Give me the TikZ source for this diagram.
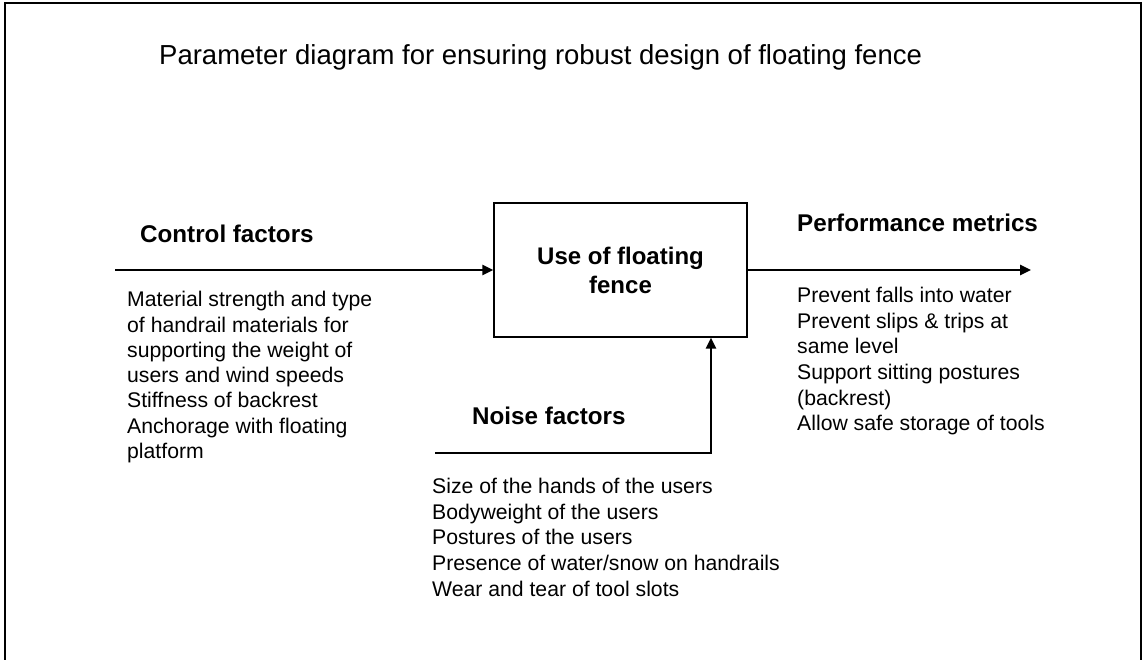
\documentclass[tikz,border=0pt]{standalone}
\usepackage{fontspec}
\setmainfont{Liberation Sans}
\usetikzlibrary{arrows.meta}
\tikzset{
  frameline/.style={line width=1.6pt, black},
  boxstyle/.style={draw, line width=1.2pt, minimum width=253pt, minimum height=134pt, inner sep=0pt, align=center, font=\bfseries\fontsize{24}{29}\selectfont},
  arr/.style={line width=2.4pt, -{Triangle[length=11pt,width=10pt]}},
  titletext/.style={anchor=base west, inner sep=0pt, font=\fontsize{27.5}{33}\selectfont},
  headtext/.style={anchor=base west, inner sep=0pt, font=\bfseries\fontsize{24.2}{29}\selectfont},
  listtext/.style={anchor=base west, inner sep=0pt, font=\fontsize{21.2}{25}\selectfont},
}
\begin{document}
\begin{tikzpicture}[x=1pt, y=-1pt]
\useasboundingbox (0,0) rectangle (1145,660);
\draw[frameline] (5,662) -- (5,3) -- (1141,3) -- (1141,662);

\node[titletext] (title) at (159,65) {Parameter diagram for ensuring robust design of floating fence};

\node[boxstyle] (box) at (620.5,270) {Use of floating\\fence};

\node[headtext] (ctrl) at (140,243) {Control factors};
\node[headtext] (perf) at (797,232) {Performance metrics};
\node[headtext] (noise) at (472,424) {Noise factors};

\coordinate (cstart) at (115,270);
\coordinate (pend) at (1031,270);
\coordinate (nstart) at (435,453);
\coordinate (ncorner) at (711,453);

\draw[arr] (cstart) -- (box.west);
\draw[arr] (box.east) -- (pend);
\draw[arr] (nstart) -- (ncorner) -- (ncorner |- box.south);

\foreach \t [count=\i] in {Material strength and type, of handrail materials for, supporting the weight of, users and wind speeds, Stiffness of backrest, Anchorage with floating, platform}
  \node[listtext] (cl\i) at (127,{306.7+25.3*(\i-1)}) {\t};

\foreach \t [count=\i] in {Prevent falls into water, Prevent slips \& trips at, same level, Support sitting postures, (backrest), Allow safe storage of tools}
  \node[listtext] (pl\i) at (797,{302.7+25.6*(\i-1)}) {\t};

\foreach \t [count=\i] in {Size of the hands of the users, Bodyweight of the users, Postures of the users, Presence of water/snow on handrails, Wear and tear of tool slots}
  \node[listtext] (nl\i) at (432,{493.3+25.8*(\i-1)}) {\t};
\end{tikzpicture}
\end{document}
